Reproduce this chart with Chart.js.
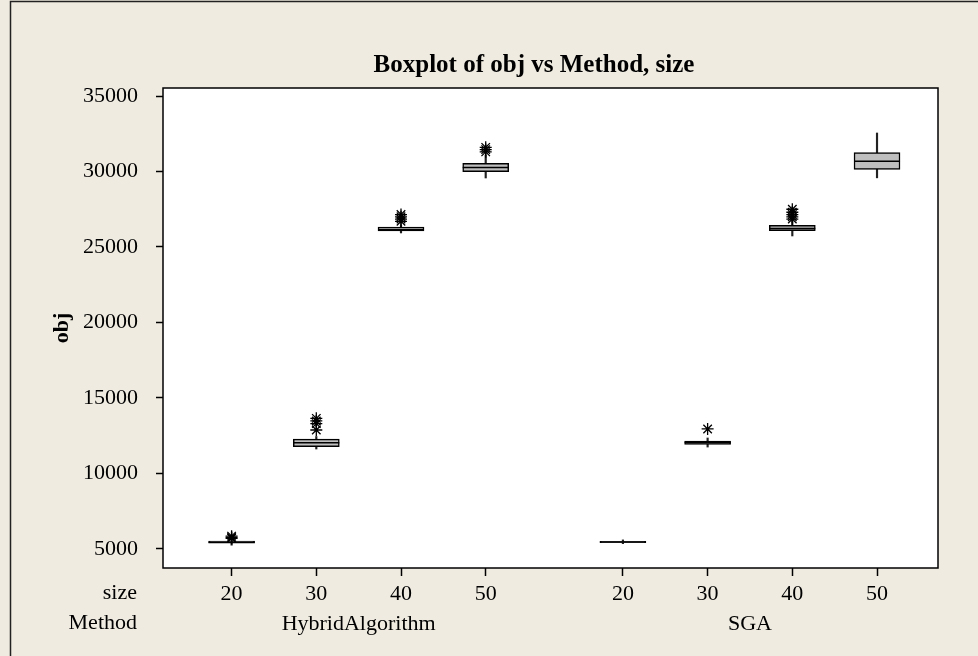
<!DOCTYPE html>
<html><head><meta charset="utf-8">
<script src="https://cdn.jsdelivr.net/npm/chart.js@4.4.1/dist/chart.umd.min.js"></script>
<style>html,body{margin:0;padding:0;background:#efebe1;overflow:hidden;} canvas{display:block;}</style>
</head><body>
<canvas id="c" width="978" height="656"></canvas>
<script>
// ---------- data ----------
const chartTitle = 'Boxplot of obj vs Method, size';
const methods = ['HybridAlgorithm', 'SGA'];
const sizes = ['20', '30', '40', '50'];
// order: HA20, HA30, HA40, HA50, SGA20, SGA30, SGA40, SGA50
const whiskerLow  = [5250, 11620, 25930, 29570, 5350, 11750, 25730, 29580];
const quartile1   = [5380, 11780, 26060, 29990, 5420, 11930, 26080, 30130];
const medians     = [5450, 12030, 26150, 30260, 5460, 12050, 26230, 30680];
const quartile3   = [5530, 12280, 26320, 30540, 5500, 12150, 26440, 31250];
const whiskerHigh = [5650, 12450, 26450, 31090, 5600, 12350, 26700, 32550];
const outliers = [
  [5850, 5760, 5700],
  [13650, 13480, 13300, 12880],
  [27150, 27000, 26850, 26700],
  [31600, 31450, 31300],
  [],
  [12950],
  [27500, 27300, 27150, 27000, 26850],
  []
];
const yTickValues = [5000, 10000, 15000, 20000, 25000, 30000, 35000];
const yMin = 3740, yMax = 35530;

// ---------- layout helpers ----------
const GROUP_GAP = 0.62;
const xPos = (m, s) => 1 + s + m * (sizes.length + GROUP_GAP);
const FONT = "'Liberation Serif', 'Times New Roman', serif";

const boxes = [], whiskers = [], meds = [], outs = [];
methods.forEach((m, mi) => sizes.forEach((s, si) => {
  const k = mi * sizes.length + si;
  const x = xPos(mi, si);
  boxes.push({x: x, y: [quartile1[k], quartile3[k]]});
  whiskers.push({x: x, y: [whiskerLow[k], whiskerHigh[k]]});
  meds.push({x: x, y: medians[k]});
  outliers[k].forEach(v => outs.push({x: x, y: v}));
}));

const xTicks = [];
methods.forEach((m, mi) => {
  sizes.forEach((s, si) => xTicks.push({value: xPos(mi, si), lbl: [s, ''], isGroup: false}));
  xTicks.push({value: (xPos(mi, 0) + xPos(mi, sizes.length - 1)) / 2, lbl: ['', m], isGroup: true});
});
xTicks.sort((a, b) => a.value - b.value);

const bgPlugin = {
  id: 'bg',
  beforeDraw(chart) {
    const {ctx, chartArea: a} = chart;
    ctx.save();
    ctx.fillStyle = '#efebe1';
    ctx.fillRect(0, 0, chart.width, chart.height);
    ctx.fillStyle = '#ffffff';
    ctx.fillRect(a.left, a.top, a.right - a.left, a.bottom - a.top);
    ctx.strokeStyle = '#222';
    ctx.lineWidth = 1.5;
    ctx.beginPath();
    ctx.moveTo(10.5, chart.height);
    ctx.lineTo(10.5, 1.5);
    ctx.lineTo(chart.width, 1.5);
    ctx.stroke();
    ctx.restore();
  },
  afterDraw(chart) {
    const {ctx, chartArea: a} = chart;
    ctx.save();
    ctx.strokeStyle = '#000';
    ctx.lineWidth = 1.5;
    ctx.strokeRect(a.left, a.top, a.right - a.left, a.bottom - a.top);
    ctx.fillStyle = '#000';
    ctx.textBaseline = 'middle';
    ctx.textAlign = 'center';
    ctx.font = 'bold 25px ' + FONT;
    ctx.fillText(chartTitle, 534, 66);
    ctx.font = '22px ' + FONT;
    ctx.textAlign = 'right';
    ctx.fillText('size', 137, 593);
    ctx.fillText('Method', 137, 623);
    ctx.restore();
  }
};

new Chart(document.getElementById('c'), {
  type: 'bar',
  data: {
    datasets: [
      {type: 'bar', data: whiskers, backgroundColor: '#222', borderWidth: 0,
       barThickness: 1.5, grouped: false, order: 4},
      {type: 'bar', data: boxes, backgroundColor: '#bfbfbf', borderColor: '#000',
       borderWidth: 1.5, borderSkipped: false, barThickness: 46, grouped: false, order: 3},
      {type: 'scatter', data: meds, pointStyle: 'line', pointRadius: 23, borderColor: '#000',
       borderWidth: 1.5, order: 2},
      {type: 'scatter', data: outs, pointStyle: 'star', pointRadius: 6, borderColor: '#000',
       backgroundColor: '#000', borderWidth: 1.3, order: 1}
    ]
  },
  options: {
    responsive: false,
    animation: false,
    events: [],
    devicePixelRatio: 1,
    layout: {padding: {left: 0, top: 88, right: 40, bottom: 0}},
    plugins: {
      legend: {display: false},
      tooltip: {enabled: false},
      title: {display: false}
    },
    scales: {
      x: {
        type: 'linear', offset: false,
        min: 0.19, max: 9.34,
        afterBuildTicks: s => { s.ticks = xTicks.map(t => Object.assign({}, t)); },
        afterFit: s => { s.height = 88; },
        border: {display: false},
        grid: {display: true, offset: false, drawOnChartArea: false, drawTicks: true, tickLength: 8,
               tickWidth: 1.5,
               tickColor: ctx => (ctx.tick && ctx.tick.isGroup) ? 'rgba(0,0,0,0)' : '#000'},
        ticks: {
          autoSkip: false, maxRotation: 0, padding: 3, color: '#000',
          font: {family: FONT, size: 22, lineHeight: 1.36},
          callback: (v, i, ticks) => ticks[i].lbl
        }
      },
      y: {
        type: 'linear', min: yMin, max: yMax,
        afterBuildTicks: s => { s.ticks = yTickValues.map(v => ({value: v})); },
        afterFit: s => { s.width = 163; },
        border: {display: false},
        grid: {display: true, drawOnChartArea: false, drawTicks: true, tickLength: 7,
               tickWidth: 1.5, tickColor: '#000'},
        ticks: {padding: 18, color: '#000', font: {family: FONT, size: 22},
                callback: v => String(v)},
        title: {display: true, text: 'obj', color: '#000',
                font: {family: FONT, size: 22, weight: 'bold', lineHeight: 1.2},
                padding: {top: 49, bottom: 0}}
      }
    }
  },
  plugins: [bgPlugin]
});
</script>
</body></html>
